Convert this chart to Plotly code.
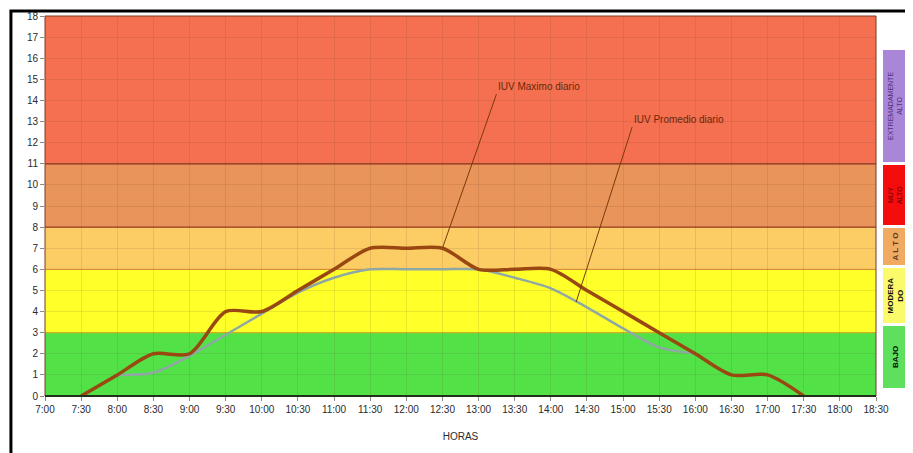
import plotly.graph_objects as go

horas = ['7:00', '7:30', '8:00', '8:30', '9:00', '9:30', '10:00', '10:30', '11:00', '11:30',
         '12:00', '12:30', '13:00', '13:30', '14:00', '14:30', '15:00', '15:30', '16:00',
         '16:30', '17:00', '17:30', '18:00', '18:30']
iuv_max = [None, 0, 1, 2, 2, 4, 4, 5, 6, 7, 7, 7, 6, 6, 6, 5, 4, 3, 2, 1, 1, 0, None, None]
iuv_prom = [None, None, 1, 1.1, 1.9, 2.9, 3.9, 4.9, 5.6, 6, 6, 6, 6, 5.6, 5.1, 4.2, 3.2, 2.3, 2.0,
            None, None, None, None, None]

# bandas de riesgo (desde, hasta, color)
bandas_lim = [0, 3, 6, 8, 11, 18]
bandas_col = ['#52e248', '#ffff2a', '#fccd64', '#e8945a', '#f47050']
bordes_col = ['#2f6a2a', '#d8c020', '#e89a40', '#9a3a1e', '#8a3018']

# cajas de la leyenda a la derecha
leyenda_txt = ['<b>BAJO</b>', '<b>MODERA<br>DO</b>', '<b>A L T O</b>', 'MUY<br>ALTO',
               'EXTREMADAMENTE<br>ALTO']
leyenda_col = ['#5ee05e', '#fafa6a', '#f0aa62', '#f50c0c', '#a986d8']
leyenda_font = ['#0a0a0a', '#101010', '#5a3a1e', '#6a0000', '#50307a']

fig = go.Figure()

fig.add_trace(go.Scatter(x=horas, y=iuv_prom, mode='lines', name='IUV Promedio diario',
                         line=dict(color='#8fa8a4', width=2.5, shape='spline', smoothing=0.8)))
fig.add_trace(go.Scatter(x=horas, y=iuv_max, mode='lines', name='IUV Maximo diario',
                         line=dict(color='#9a4812', width=3.5, shape='spline', smoothing=0.8)))

for i in range(len(bandas_col)):
    fig.add_shape(type='rect', xref='paper', yref='y', x0=0, x1=1,
                  y0=bandas_lim[i], y1=bandas_lim[i + 1],
                  fillcolor=bandas_col[i], line_width=0, layer='below')
    fig.add_shape(type='line', xref='paper', yref='y', x0=0, x1=1,
                  y0=bandas_lim[i], y1=bandas_lim[i],
                  line=dict(color=bordes_col[i], width=1.2), layer='below')

# borde del area de trazado
fig.add_shape(type='rect', xref='paper', yref='paper', x0=0, x1=1, y0=0, y1=1,
              line=dict(color='#7a3a22', width=1), layer='above')
fig.add_shape(type='line', xref='paper', yref='paper', x0=0, x1=1, y0=0, y1=0,
              line=dict(color='#22301a', width=2), layer='above')

# marco exterior
fig.add_shape(type='rect', xref='paper', yref='paper', x0=-0.041, x1=1.06, y0=-0.16, y1=1.013,
              line=dict(color='black', width=3), layer='above')

# leyenda de cajas (pixeles de la imagen -> papel)
cajas_px = [(326, 388), (268, 323), (228, 265), (165, 225), (50, 162)]
def py(v):
    return (396 - v) / 380.0
bx0, bx1 = (883 - 45) / 831.0, (907 - 45) / 831.0
for i, (a, b) in enumerate(cajas_px):
    fig.add_shape(type='rect', xref='paper', yref='paper', x0=bx0, x1=bx1, y0=py(b), y1=py(a),
                  fillcolor=leyenda_col[i], line_width=0)
    fig.add_annotation(xref='paper', yref='paper', x=(bx0 + bx1) / 2, y=(py(a) + py(b)) / 2,
                       text=leyenda_txt[i], showarrow=False, textangle=-90,
                       font=dict(family='Liberation Sans', size=7 if i in (3, 4) else 8,
                                 color=leyenda_font[i]),
                       xanchor='center', yanchor='middle')

# anotaciones con linea guia
fig.add_annotation(x=11, y=iuv_max[11], ax=54, ay=-154, text='IUV Maximo diario',
                   showarrow=True, arrowhead=0, arrowwidth=1, arrowcolor='#7a3a0a',
                   xanchor='left', yanchor='bottom',
                   font=dict(family='Liberation Sans', size=10, color='#6a2808'))
fig.add_annotation(x=14.7, y=4.45, ax=56, ay=-175, text='IUV Promedio diario',
                   showarrow=True, arrowhead=0, arrowwidth=1, arrowcolor='#7a3a0a',
                   xanchor='left', yanchor='bottom',
                   font=dict(family='Liberation Sans', size=10, color='#6a2808'))

# la pagina tiene 8px de margen: figura de 905x445
fig.update_layout(
    width=905, height=445,
    margin=dict(l=37, r=37, t=8, b=57, autoexpand=False),
    paper_bgcolor='white', plot_bgcolor='white',
    showlegend=False,
    font=dict(family='Liberation Sans', size=10, color='#333333'),
)
fig.update_xaxes(type='category', range=[0, 23], showgrid=True,
                 gridcolor='rgba(110,60,30,0.13)', gridwidth=1,
                 ticks='outside', ticklen=4, tickcolor='#888888',
                 tickfont=dict(size=10, color='#2a2a2a'),
                 title=dict(text='HORAS', font=dict(size=10, color='#2a2a2a'), standoff=18),
                 zeroline=False, showline=False)
fig.update_yaxes(range=[0, 18], dtick=1, showgrid=True,
                 gridcolor='rgba(110,60,30,0.13)', gridwidth=1,
                 ticks='outside', ticklen=4, tickcolor='#888888',
                 tickfont=dict(size=10, color='#2a2a2a'),
                 zeroline=False, showline=False)

fig.write_html("out.html")
